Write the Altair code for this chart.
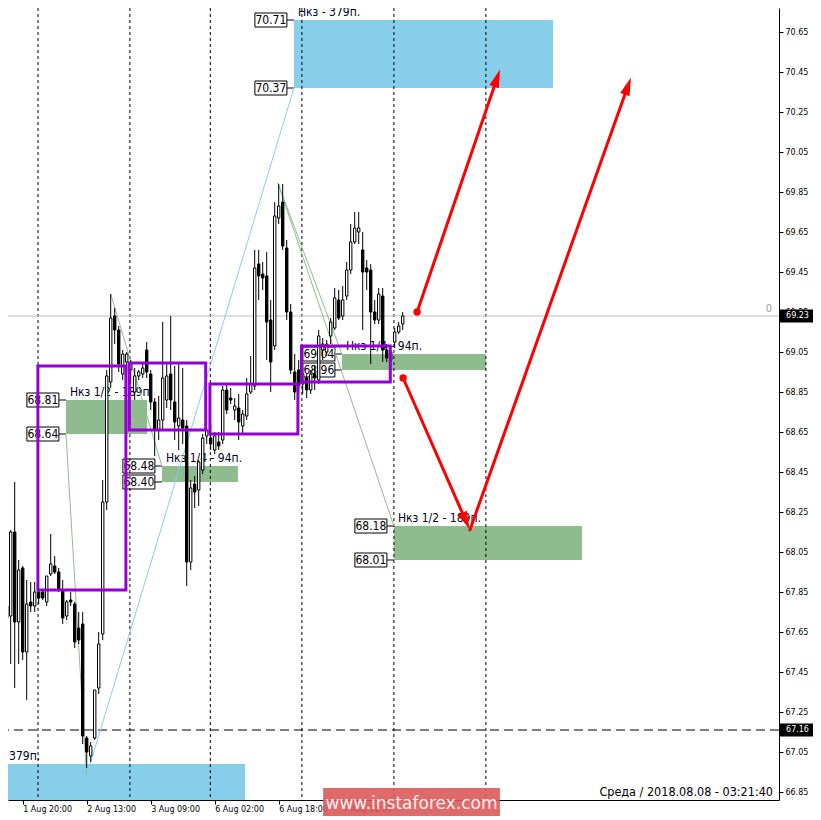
import math
import altair as alt
import pandas as pd

# ---------------- data ----------------
opens = [67.88, 67.72, 67.73, 68.15, 67.70, 67.97, 67.55, 67.80, 67.78, 67.85,
         67.85, 67.80, 67.94, 67.98, 67.95, 67.86, 67.73, 67.81, 67.79, 67.67,
         67.69, 67.12, 67.03, 67.12, 67.37, 67.64, 68.30, 68.90, 69.23, 69.16,
         68.94, 69.00, 68.96, 68.85, 68.93, 68.94, 69.06, 68.94, 68.80, 68.66,
         68.71, 68.81, 68.94, 68.80, 68.68, 68.71, 68.68, 68.00, 68.39, 68.36,
         68.46, 68.63, 68.62, 68.56, 68.60, 68.61, 68.86, 68.82, 68.76, 68.77,
         68.68, 68.73, 68.85, 68.88, 69.49, 69.44, 69.43, 69.21, 69.08, 69.72,
         69.80, 69.57, 69.25, 68.95, 68.96, 68.89, 68.92, 68.86, 68.94, 68.91,
         69.06, 69.05, 69.13, 69.17, 69.31, 69.23, 69.33, 69.46, 69.60, 69.65,
         69.56, 69.47, 69.46, 69.25, 69.21, 69.33, 69.06, 69.01, 69.10, 69.15,
         69.19]
highs = [67.90, 67.88, 68.16, 68.40, 68.01, 67.98, 67.91, 67.90, 67.90, 67.87,
         67.86, 67.93, 68.14, 68.03, 67.97, 67.91, 67.81, 67.85, 67.80, 67.75,
         67.75, 67.13, 67.10, 67.36, 67.65, 68.41, 68.96, 69.34, 69.27, 69.18,
         69.06, 69.05, 69.01, 68.97, 68.96, 68.99, 69.10, 68.96, 68.82, 68.83,
         69.20, 68.99, 69.23, 68.98, 68.99, 68.97, 68.71, 68.41, 68.43, 68.51,
         68.64, 68.66, 68.69, 68.65, 68.65, 68.88, 68.89, 68.87, 68.82, 68.84,
         68.76, 68.92, 69.03, 69.56, 69.56, 69.50, 69.55, 69.31, 69.80, 69.89,
         69.89, 69.61, 69.29, 69.04, 69.01, 68.97, 68.94, 68.96, 68.98, 69.16,
         69.12, 69.11, 69.22, 69.37, 69.36, 69.38, 69.50, 69.69, 69.75, 69.75,
         69.65, 69.51, 69.49, 69.31, 69.37, 69.37, 69.09, 69.05, 69.17, 69.20,
         69.25]
lows = [67.61, 67.60, 67.49, 67.37, 67.49, 67.51, 67.31, 67.75, 67.75, 67.79,
        67.81, 67.78, 67.93, 67.94, 67.85, 67.69, 67.71, 67.78, 67.57, 67.59,
        67.09, 66.97, 67.00, 67.11, 67.34, 67.61, 68.26, 68.87, 69.09, 68.95,
        68.91, 68.95, 68.89, 68.81, 68.91, 68.92, 68.92, 68.76, 68.53, 68.61,
        68.66, 68.77, 68.76, 68.61, 68.56, 68.59, 67.88, 67.96, 68.27, 68.28,
        68.44, 68.59, 68.56, 68.54, 68.56, 68.59, 68.74, 68.79, 68.71, 68.61,
        68.64, 68.71, 68.84, 68.86, 69.31, 69.36, 69.01, 68.85, 69.06, 69.69,
        69.56, 69.21, 68.94, 68.81, 68.84, 68.84, 68.82, 68.84, 68.86, 68.89,
        69.01, 69.03, 69.09, 69.16, 69.21, 69.21, 69.31, 69.44, 69.59, 69.59,
        69.16, 69.36, 68.99, 69.19, 69.19, 69.00, 69.00, 68.98, 69.07, 69.14,
        69.16]
closes = [67.72, 67.78, 68.15, 67.70, 67.96, 67.55, 67.79, 67.78, 67.85, 67.82,
          67.82, 67.93, 67.99, 67.95, 67.86, 67.72, 67.80, 67.80, 67.60, 67.61,
          67.13, 67.05, 67.08, 67.36, 67.59, 68.30, 68.93, 69.22, 69.16, 68.99,
          69.04, 69.04, 68.99, 68.93, 68.95, 68.97, 68.95, 68.80, 68.66, 68.71,
          68.92, 68.93, 68.81, 68.70, 68.72, 68.67, 68.00, 68.37, 68.35, 68.50,
          68.62, 68.66, 68.59, 68.63, 68.58, 68.86, 68.76, 68.81, 68.78, 68.70,
          68.74, 68.84, 68.89, 69.47, 69.43, 69.42, 69.20, 69.00, 69.73, 69.78,
          69.58, 69.25, 68.96, 68.85, 68.88, 68.94, 68.86, 68.94, 68.92, 69.13,
          69.09, 69.09, 69.20, 69.32, 69.22, 69.31, 69.46, 69.60, 69.67, 69.67,
          69.45, 69.45, 69.25, 69.21, 69.34, 69.06, 69.02, 69.05, 69.15, 69.18,
          69.23]

tick_pos = [5, 21, 37, 53, 69, 85]
tick_labels = ["1 Aug 20:00", "2 Aug 13:00", "3 Aug 09:00",
               "6 Aug 02:00", "6 Aug 18:00", "7 Aug 11:00"]
price_ticks = [66.85, 67.05, 67.25, 67.45, 67.65, 67.85, 68.05, 68.25, 68.45,
               68.65, 68.85, 69.05, 69.25, 69.45, 69.65, 69.85, 70.05, 70.25,
               70.45, 70.65]

separators = [8.83, 31.8, 51.9, 74.8, 97.8, 120.8]

zone_left = [72.8, -7.2, 15.8, 39.8, 84.8, 97.8]
zone_right = [137.6, 60.6, 36.1, 58.8, 120.8, 144.8]
zone_top = [70.71, 66.99, 68.81, 68.48, 69.04, 68.18]
zone_bottom = [70.37, 66.65, 68.64, 68.40, 68.96, 68.01]
zone_kind = ["target", "target", "half", "quarter", "quarter", "half"]
zone_label = ["Нкз - 379п.", "Нкз - 379п.", "Нкз 1/2 - 189п.",
              "Нкз 1/4 - 94п.", "Нкз 1/4 - 94п.", "Нкз 1/2 - 189п."]
zone_tagged = [True, False, True, True, True, True]

box_left = [8.8, 31.65, 51.8, 74.7]
box_right = [30.8, 50.75, 73.8, 96.9]
box_top = [68.98, 68.995, 68.89, 69.08]
box_bottom = [67.86, 68.66, 68.64, 68.90]

trend_x1 = [21.8, 15.8, 27.0, 68.8, 68.8]
trend_y1 = [66.985, 68.645, 69.34, 69.895, 69.895]
trend_x2 = [72.8, 20.95, 39.8, 84.8, 97.8]
trend_y2 = [70.37, 66.935, 68.48, 69.04, 68.18]
trend_kind = ["blue", "green", "green", "green", "green"]

arrow_x1 = [103.6, 100.1, 116.8]
arrow_y1 = [69.25, 68.92, 68.16]
arrow_x2 = [123.6, 115.8, 156.3]
arrow_y2 = [70.42, 68.205, 70.38]
dot_x = [103.6, 100.1]
dot_y = [69.25, 68.92]

bid_price = 69.23
level_price = 67.16
date_text = "Среда  /  2018.08.08  -  03:21:40"
watermark = "www.instaforex.com"

# ---------------- scales / geometry ----------------
W, H = 771, 792
X_DOMAIN = [1.325, 194.075]
Y_DOMAIN = [66.81, 70.77]
PX_X = W / (X_DOMAIN[1] - X_DOMAIN[0])
PX_Y = H / (Y_DOMAIN[1] - Y_DOMAIN[0])

FONT = "DejaVu Sans Condensed, DejaVu Sans, sans-serif"
AX_FONT = "DejaVu Sans"

xs = alt.Scale(domain=X_DOMAIN, nice=False, zero=False, padding=0)
ys = alt.Scale(domain=Y_DOMAIN, nice=False, zero=False, padding=0)

label_expr = " : ".join(f"datum.value == {p} ? '{l}'" for p, l in zip(tick_pos, tick_labels)) + " : ''"
x_axis = alt.Axis(values=tick_pos, labelExpr=label_expr, orient="bottom", tickSize=4,
                  labelAlign="left", labelFlush=False, labelOverlap=False, labelPadding=1,
                  labelFont=AX_FONT, labelFontSize=8, labelColor="black",
                  tickColor="black", domainColor="black", grid=False, title="")
y_axis = alt.Axis(values=price_ticks, format=".2f", orient="right", tickSize=4,
                  labelPadding=2, labelFont=AX_FONT, labelFontSize=8, labelColor="black",
                  labelFlush=False, labelOverlap=False,
                  tickColor="black", domainColor="black", grid=False, title="")


def X(f):
    return alt.X(f, type="quantitative", scale=xs, axis=x_axis)


def Y(f):
    return alt.Y(f, type="quantitative", scale=ys, axis=y_axis)


cdf = pd.DataFrame({"t": list(range(len(opens))), "open": opens, "high": highs,
                    "low": lows, "close": closes})

wicks = alt.Chart(cdf).mark_rule(color="black", strokeWidth=1).encode(
    x=X("t"), y=Y("low"), y2="high")
bodies = alt.Chart(cdf).mark_bar(size=2.4, stroke="black", strokeWidth=1).encode(
    x=X("t"), y=Y("open"), y2="close",
    color=alt.condition("datum.close > datum.open", alt.value("white"), alt.value("black")),
)

zdf = pd.DataFrame({"L": zone_left, "R": zone_right, "top": zone_top, "bot": zone_bottom,
                    "kind": zone_kind, "label": zone_label})
zone_rect = alt.Chart(zdf).mark_rect(clip=True).encode(
    x=X("L"), x2="R", y=Y("top"), y2="bot",
    color=alt.condition("datum.kind == 'target'", alt.value("#87CEEB"), alt.value("#8FBC8F")),
)
zone_text = alt.Chart(zdf).mark_text(align="left", baseline="bottom", dx=4, dy=-1,
                                     font=FONT, fontSize=12, color="#000020").encode(
    x=X("L"), y=Y("top"), text="label:N")

tag_rows = []
for L, top, bot, tagged in zip(zone_left, zone_top, zone_bottom, zone_tagged):
    if not tagged:
        continue
    for p in (top, bot):
        tag_rows.append({"L": L, "x1": L - 39 / PX_X, "x2": L - 7 / PX_X,
                         "xc": L - 23 / PX_X, "p": p,
                         "y1": p - 7 / PX_Y, "y2": p + 7 / PX_Y, "txt": f"{p:.2f}"})
tdf = pd.DataFrame(tag_rows)
tag_rect = alt.Chart(tdf).mark_rect(fill="white", stroke="black", strokeWidth=1).encode(
    x=X("x1"), x2="x2", y=Y("y1"), y2="y2")
tag_link = alt.Chart(tdf).mark_rule(color="black", strokeWidth=1).encode(
    x=X("x2"), x2="L", y=Y("p"))
tag_text = alt.Chart(tdf).mark_text(font=FONT, fontSize=12, color="black", baseline="middle").encode(
    x=X("xc"), y=Y("p"), text="txt:N")

sdf = pd.DataFrame({"t": separators})
seps = alt.Chart(sdf).mark_rule(color="black", strokeDash=[3, 3], strokeWidth=1).encode(x=X("t"))

bid_line = alt.Chart(pd.DataFrame({"p": [bid_price]})).mark_rule(color="#C0C0C0", strokeWidth=1).encode(y=Y("p"))
level_line = alt.Chart(pd.DataFrame({"p": [level_price]})).mark_rule(
    color="black", strokeDash=[9, 5], strokeWidth=1).encode(y=Y("p"))

trdf = pd.DataFrame({"x1": trend_x1, "y1": trend_y1, "x2": trend_x2, "y2": trend_y2, "kind": trend_kind})
trends = alt.Chart(trdf).mark_rule(strokeWidth=1).encode(
    x=X("x1"), x2="x2", y=Y("y1"), y2="y2",
    color=alt.condition("datum.kind == 'blue'", alt.value("#87CEEB"), alt.value("#8FBC8F")))

bdf = pd.DataFrame({"L": box_left, "R": box_right, "top": box_top, "bot": box_bottom})
boxes = alt.Chart(bdf).mark_rect(fillOpacity=0, stroke="#9400D3", strokeWidth=3).encode(
    x=X("L"), x2="R", y=Y("top"), y2="bot")

angles = []
for a, b, c, d in zip(arrow_x1, arrow_y1, arrow_x2, arrow_y2):
    dx = (c - a) * PX_X
    dy = -(d - b) * PX_Y
    angles.append(math.degrees(math.atan2(dx, -dy)) % 360)
adf = pd.DataFrame({"x1": arrow_x1, "y1": arrow_y1, "x2": arrow_x2, "y2": arrow_y2, "ang": angles})
arrows = alt.Chart(adf).mark_rule(color="#FF0000", strokeWidth=3, strokeCap="round").encode(
    x=X("x1"), x2="x2", y=Y("y1"), y2="y2")
heads = alt.Chart(adf).mark_point(shape="M0,-1L0.55,1L-0.55,1Z", filled=True, color="#FF0000",
                                  size=330, opacity=1).encode(
    x=X("x2"), y=Y("y2"), angle=alt.Angle("ang:Q", scale=None))
dots = alt.Chart(pd.DataFrame({"x": dot_x, "y": dot_y})).mark_circle(color="#FF0000", size=55, opacity=1).encode(
    x=X("x"), y=Y("y"))

rt_rows = []
for p in (bid_price, level_price):
    rt_rows.append({"x1": X_DOMAIN[1] + 1 / PX_X, "x2": X_DOMAIN[1] + 36 / PX_X,
                    "xc": X_DOMAIN[1] + 18.5 / PX_X, "p": p,
                    "y1": p - 6.5 / PX_Y, "y2": p + 6.5 / PX_Y, "txt": f"{p:.2f}"})
rtdf = pd.DataFrame(rt_rows)
rtag_rect = alt.Chart(rtdf).mark_rect(fill="black").encode(x=X("x1"), x2="x2", y=Y("y1"), y2="y2")
rtag_text = alt.Chart(rtdf).mark_text(font=AX_FONT, fontSize=8, color="white", baseline="middle").encode(
    x=X("xc"), y=Y("p"), text="txt:N")

zero_lbl = alt.Chart(pd.DataFrame({"x": [X_DOMAIN[1] - 10 / PX_X], "y": [bid_price], "txt": ["0"]})).mark_text(
    font=FONT, fontSize=11, color="#A0A0A0", baseline="bottom", align="center", dy=-2).encode(
    x=X("x"), y=Y("y"), text="txt:N")

date_lbl = alt.Chart(pd.DataFrame({"x": [X_DOMAIN[1] - 6 / PX_X], "y": [66.85], "txt": [date_text]})).mark_text(
    font=FONT, fontSize=12.5, color="black", baseline="middle", align="right").encode(
    x=X("x"), y=Y("y"), text="txt:N")

wm_df = pd.DataFrame({"x1": [80.1], "x2": [124.3], "y1": [66.71], "y2": [66.87],
                      "xc": [102.2], "yc": [66.79], "txt": [watermark]})
wm_rect = alt.Chart(wm_df).mark_rect(fill="#DC5A5A", opacity=0.9).encode(
    x=X("x1"), x2="x2", y=Y("y1"), y2="y2")
wm_text = alt.Chart(wm_df).mark_text(font="DejaVu Sans, sans-serif", fontSize=17, color="#FFF0F0",
                                     baseline="middle", align="center").encode(
    x=X("xc"), y=Y("yc"), text="txt:N")

chart = alt.layer(
    zone_rect, zone_text, tag_rect, tag_link, tag_text, seps, bid_line, level_line,
    trends, wicks, bodies, boxes, arrows, heads, dots, rtag_rect, rtag_text,
    zero_lbl, date_lbl, wm_rect, wm_text,
).properties(
    width=W, height=H,
    background="white",
    autosize=alt.AutoSizeParams(type="none"),
    padding={"left": 0, "top": 0, "right": 34, "bottom": 16},
).configure_view(strokeWidth=0)

chart.save("out.html", embed_options={"renderer": "svg", "actions": False})
